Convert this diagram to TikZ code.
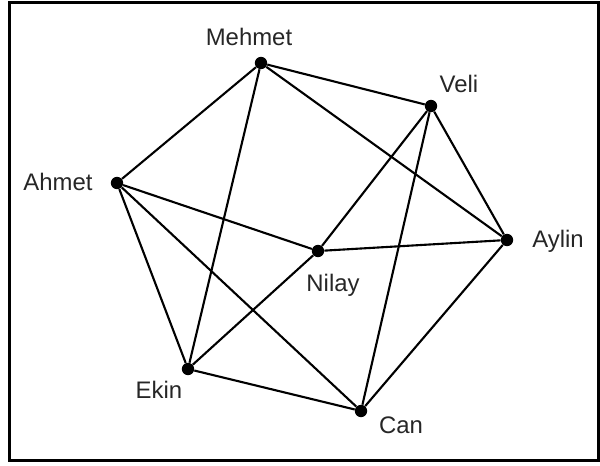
\documentclass[tikz,border=0pt]{standalone}
\usepackage{fontspec}
\setmainfont{Liberation Sans}
\begin{document}
\begin{tikzpicture}[x=0.025cm,y=-0.025cm,
  vertex/.style={circle,fill=black,inner sep=0pt,minimum size=8.8pt},
  vlabel/.style={anchor=base,inner sep=0pt,text=black!85,font=\fontsize{17}{20}\selectfont},
  edge/.style={line width=1.5pt}]

\useasboundingbox (0,0) rectangle (600,466);
\draw[line width=2.2pt] (9.5,2.5) rectangle (598.5,460.5);

\node[vertex] (mehmet) at (261,63) {};
\node[vertex] (veli) at (431,106) {};
\node[vertex] (ahmet) at (117,183) {};
\node[vertex] (aylin) at (507,240) {};
\node[vertex] (nilay) at (318,251) {};
\node[vertex] (ekin) at (188,369) {};
\node[vertex] (can) at (361,411) {};

\node[vlabel] (tmehmet) at (249,46) {Mehmet};
\node[vlabel] (tveli) at (459,93) {Veli};
\node[vlabel] (tahmet) at (58,191) {Ahmet};
\node[vlabel] (taylin) at (558,247) {Aylin};
\node[vlabel] (tnilay) at (333,291) {Nilay};
\node[vlabel] (tekin) at (159,398) {Ekin};
\node[vlabel] (tcan) at (401,433) {Can};

\draw[edge] (mehmet) -- (ahmet);
\draw[edge] (mehmet) -- (veli);
\draw[edge] (mehmet) -- (aylin);
\draw[edge] (mehmet) -- (ekin);
\draw[edge] (veli) -- (nilay);
\draw[edge] (veli) -- (can);
\draw[edge] (veli) -- (aylin);
\draw[edge] (ahmet) -- (nilay);
\draw[edge] (ahmet) -- (ekin);
\draw[edge] (ahmet) -- (can);
\draw[edge] (nilay) -- (aylin);
\draw[edge] (nilay) -- (ekin);
\draw[edge] (ekin) -- (can);
\draw[edge] (can) -- (aylin);
\end{tikzpicture}
\end{document}
